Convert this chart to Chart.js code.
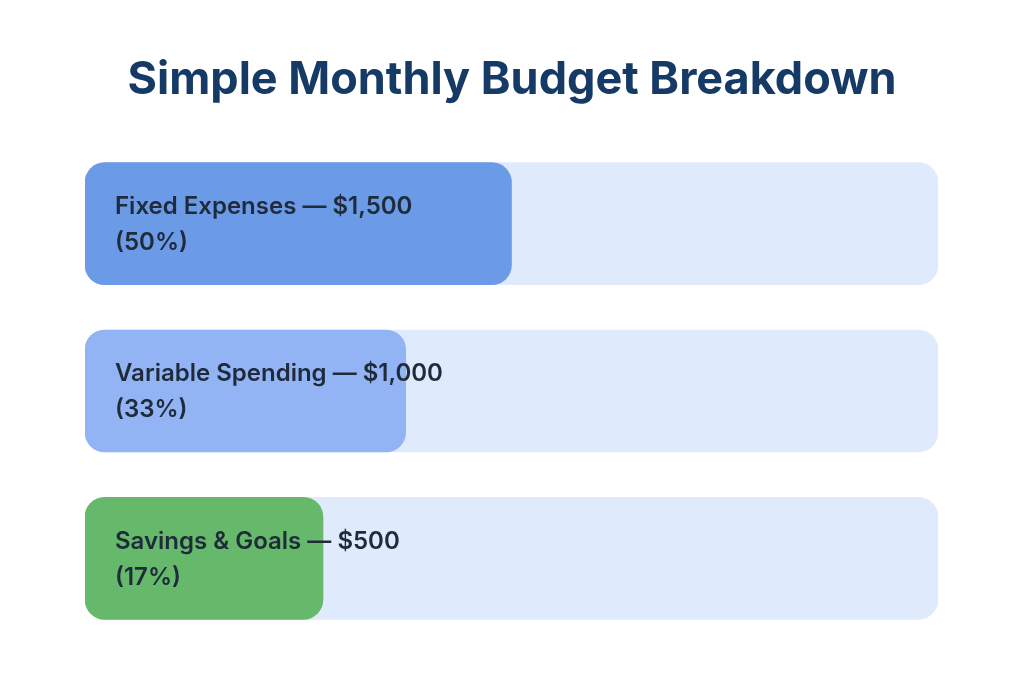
<!DOCTYPE html>
<html><head><meta charset="utf-8">
<script src="https://cdn.jsdelivr.net/npm/chart.js@4/dist/chart.umd.min.js"></script>
<style>html,body{margin:0;padding:0;background:#fff}#wrap{width:1024px;height:683px;position:relative}</style>
</head><body><div id="wrap"><canvas id="c"></canvas></div>
<script>
const title = "Simple Monthly Budget Breakdown";
const categories = ["Fixed Expenses", "Variable Spending", "Savings & Goals"];
const amounts = ["$1,500", "$1,000", "$500"];
const percents = ["50%", "33%", "17%"];
const barLengths = [50, 37.6, 27.9]; // visual fill length (% of track)
const trackValues = [100, 100, 100];
const fillColors = ["#6b9be6", "#92b4f4", "#66b96a"];

const labelPlugin = {
  id: 'labels',
  afterDatasetsDraw(chart) {
    const ctx = chart.ctx;
    const meta = chart.getDatasetMeta(1);
    ctx.save();
    ctx.fillStyle = "#1f2a3a";
    ctx.font = "600 24px Inter, 'Noto Sans', sans-serif";
    ctx.textBaseline = "middle";
    ctx.textAlign = "left";
    meta.data.forEach((bar, i) => {
      const x = chart.chartArea.left + 30;
      ctx.fillText(categories[i] + " \u2014 " + amounts[i], x, bar.y - 17);
      ctx.fillText("(" + percents[i] + ")", x, bar.y + 19);
    });
    ctx.font = "700 45px Inter, 'Noto Sans', sans-serif";
    ctx.fillStyle = "#163a66";
    ctx.textAlign = "center";
    ctx.fillText(title, 512, 80);
    ctx.restore();
  }
};

new Chart(document.getElementById('c'), {
  type: 'bar',
  data: {
    labels: categories,
    datasets: [
      { data: trackValues, backgroundColor: "#dfeafc", borderRadius: 20, borderSkipped: false, barThickness: 122, grouped: false, order: 2 },
      { data: barLengths, backgroundColor: fillColors, borderRadius: 20, borderSkipped: false, barThickness: 122, grouped: false, order: 1 }
    ]
  },
  options: {
    indexAxis: 'y',
    responsive: true, maintainAspectRatio: false, animation: false,
    layout: { padding: { left: 85, right: 86, top: 140, bottom: 41 } },
    scales: {
      x: { display: false, min: 0, max: 100 },
      y: { display: false }
    },
    plugins: { legend: { display: false }, tooltip: { enabled: false }, title: { display: false } }
  },
  plugins: [labelPlugin]
});
</script></body></html>
